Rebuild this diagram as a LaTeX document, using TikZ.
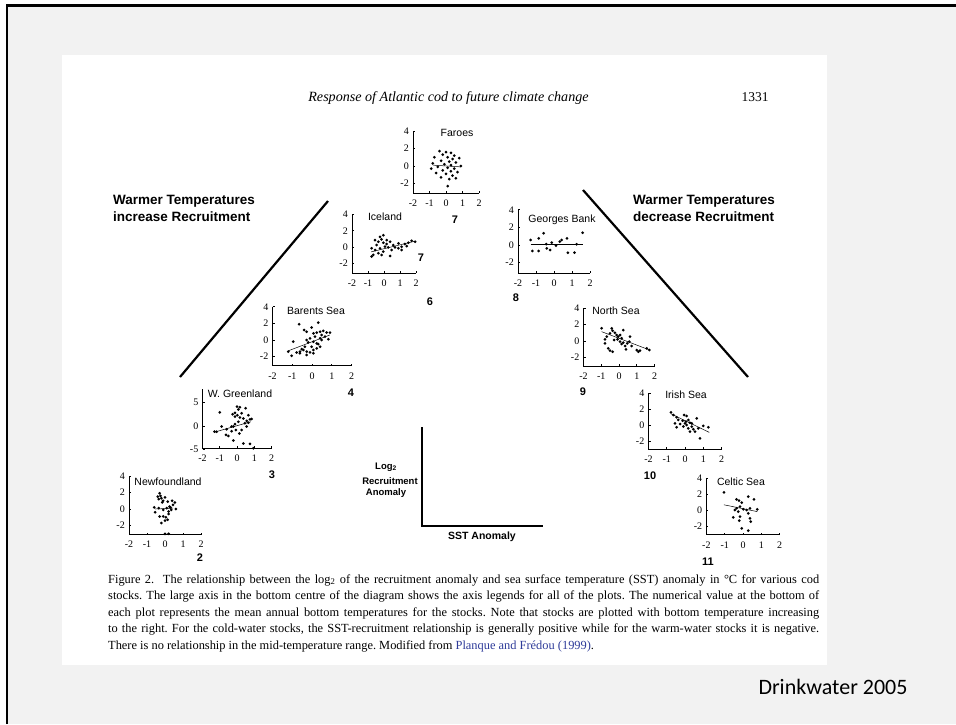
\documentclass[tikz,border=0pt]{standalone}
\usepackage{fontspec}
\setmainfont{Liberation Serif}
\newfontfamily\arialf{Liberation Sans}
\newfontfamily\calib{Carlito}
\definecolor{slidebg}{HTML}{F2F2F2}
\definecolor{citeblue}{HTML}{2F3C9A}
\tikzset{
 pl/.style n args={4}{shift={(#1,#2)}, x={(#3pt,0pt)}, y={(0pt,#4pt)}},
 ax/.style={line width=0.7pt, black},
 ytl/.style={anchor=east, inner sep=0pt, xshift=-4pt, font=\fontsize{10}{10}\selectfont},
 xtl/.style={anchor=north, inner sep=0pt, yshift=-6.5pt, font=\fontsize{10}{10}\selectfont},
 reg/.style={line width=0.5pt},
 plab/.style={font=\arialf\fontsize{10.5}{12}\selectfont, inner sep=0pt},
 num/.style={font=\arialf\bfseries\fontsize{11}{12}\selectfont, inner sep=0pt},
 head/.style={font=\arialf\bfseries\fontsize{13.5}{16.5}\selectfont, anchor=base west, inner sep=0pt},
 leg/.style={font=\arialf\bfseries\fontsize{9.5}{11}\selectfont, inner sep=0pt},
 capl/.style={font=\frenchspacing\fontsize{12.4}{14}\selectfont, anchor=base west, inner sep=0pt},
 bigline/.style={line width=2.2pt},
}
\newcommand\plaxes[3]{%
 \draw[ax] (-2,#2) -- (-2,#1) -- (2,#1);
 \foreach \t in {#3} {\draw[ax] (-2,\t) -- ++(2pt,0pt); \node[ytl] at (-2,\t) {\t};}
 \foreach \t in {-2,-1,0,1,2} {\draw[ax] (\t,#1) -- ++(0pt,2pt); \node[xtl] at (\t,#1) {\t};}
}
\newcommand\pldots[1]{\foreach \a/\b in {#1} {\fill (\a,\b) circle[radius=1.5pt];}}
\begin{document}
\begin{tikzpicture}[x=1pt, y=-1pt]
\useasboundingbox (0,0) rectangle (956,724);
\fill[white] (0,0) rectangle (956,724);
\fill[slidebg] (7,5.5) rectangle (956,724);
\draw[line width=2.2pt] (7,724) -- (7,5.5) -- (956,5.5);
\fill[white] (62,55) rectangle (827,665);

% title
\node[anchor=base, inner sep=0pt, font=\itshape\fontsize{14.1}{16}\selectfont] (title) at (448.5,101) {Response of Atlantic cod to future climate change};
\node[anchor=base, inner sep=0pt, font=\fontsize{13.5}{15}\selectfont] (page) at (755,101) {1331};

% headings
\node[head] (hl1) at (113,204) {Warmer Temperatures};
\node[head] (hl2) at (113,221) {increase Recruitment};
\node[head] (hr1) at (633,204) {Warmer Temperatures};
\node[head] (hr2) at (633,221) {decrease Recruitment};
\coordinate (la) at (328,201); \coordinate (lb) at (180,377);
\coordinate (ra) at (583,190); \coordinate (rb) at (748,377);
\draw[bigline] (la) -- (lb);
\draw[bigline] (ra) -- (rb);

% Faroes
\begin{scope}[pl={446}{166}{16.5}{8.75}]
\plaxes{-3.1}{4}{4,2,0,-2}
\pldots{-0.4/1.7,0/1.6,0.3/1.5,-0.2/1.3,0.5/1.2,-0.7/1.0,0.1/1.0,0.4/0.8,0.8/0.9,-0.3/0.6,0.2/0.5,0.6/0.4,-0.8/0.3,-0.1/0.2,0.3/0.1,0.9/0.0,-0.5/-0.1,0.1/-0.2,0.5/-0.3,-0.2/-0.5,0.3/-0.6,0.7/-0.7,-0.6/-0.8,0/-0.9,0.4/-1.1,-0.3/-1.3,0.2/-1.5,0.1/-2.3,-0.9/-0.3,0.6/-1.4}
\draw[reg] (-0.8,0.1) -- (0.9,-0.1);
\end{scope}
\node[plab] (faroes) at (457,133) {Faroes};
\node[num] (n7a) at (455,220) {7};

% Iceland
\begin{scope}[pl={384}{247}{16}{8.1}]
\plaxes{-3.2}{4}{4,2,0,-2}
\pldots{-0.25/1.26,-0.56/0.85,-0.35/0.65,-0.15/0.94,-0.04/0.53,-0.46/0.24,-0.77/-0.16,-0.56/-0.37,-0.25/-0.16,0.06/0.04,0.17/0.37,0.38/0.65,0.58/0.24,0.69/-0.04,0.9/0.45,1.1/0.04,1.31/0.37,1.52/0.53,1.73/0.77,1.94/0.65,0.9/-0.16,0.48/-0.37,0.27/-0.04,-0.04/-0.57,-0.35/-0.77,-0.67/-0.98,-0.77/-1.18,-0.15/-0.98,0.38/-1.1,1.1/-0.37,1.42/0.12,0.17/0.85,-0.04/1.46}
\draw[reg] (-0.8,-0.6) -- (1.9,0.7);
\end{scope}
\node[plab] (iceland) at (385,217) {Iceland};
\node[num] (n7b) at (421,258) {7};
\node[num] (n6) at (430,302) {6};

% Georges Bank
\begin{scope}[pl={554}{245}{18}{8.8}]
\plaxes{-3.2}{4}{4,2,0,-2}
\pldots{-1.3/0.57,-0.85/0.76,-0.58/1.33,-1.2/-0.68,-0.85/-0.68,-0.43/0.11,-0.4/-0.38,-0.22/-0.57,-0.13/0.27,0.11/-0.08,0.32/0.38,0.42/0.57,0.72/0.76,0.77/-0.87,1.14/-0.87,1.26/0.08,1.59/1.4}
\draw[reg] (-1.3,0.12) -- (1.6,0.12);
\end{scope}
\node[plab] (georges) at (562,220) {Georges Bank};
\node[num] (n8) at (516,298) {8};

% Barents Sea
\begin{scope}[pl={312}{340}{19.75}{8.3}]
\plaxes{-3.1}{4}{4,2,0,-2}
\pldots{-0.65/1.9,-0.4/1.2,-0.27/1.0,-0.02/1.5,0.32/2.1,0.07/0.8,0.24/0.9,0.41/1.0,0.57/1.1,0.74/0.9,0.91/0.9,0.49/0.6,0.66/0.4,0.41/0.2,0.15/0.4,-0.1/0.2,-0.27/0,-0.19/-0.3,0.07/-0.2,0.24/-0.4,0.49/0,0.83/0.1,-0.95/-0.2,-1.2/-1.4,-1.03/-1.9,-0.78/-1.5,-0.61/-1.4,-0.44/-1.2,-0.27/-1.4,-0.1/-1.5,0.07/-1.2,0.24/-1.0,0.41/-0.8,-0.02/-0.8,-0.36/-0.8,-0.52/-1.1,0.32/-0.5,-0.27/-1.8,-0.61/-1.6,0.07/-1.6}
\draw[reg] (-1.2,-1.3) -- (0.9,0.6);
\end{scope}
\node[plab] (barents) at (316,311) {Barents Sea};
\node[num] (n4) at (351,393) {4};

% W. Greenland
\begin{scope}[pl={237}{426}{17.25}{4.7}]
\plaxes{-4.7}{7.8}{5,0,-5}
\pldots{-1.0/2.9,0/4.1,0.08/3.5,0.17/4.0,-0.12/2.8,0.02/2.3,0.27/2.7,0.5/3.8,0.66/2.3,0.56/1.1,0.75/1.4,0.46/0.6,0.17/1.8,-0.12/2.0,-0.25/2.5,0.37/1.6,0.08/0.9,-0.12/0.4,-0.31/-0.1,-0.6/-0.7,-0.89/-0.1,-1.18/-1.2,-1.31/-1.2,-0.5/-2.1,-0.64/-1.9,-0.21/-3.1,0.14/-1.6,-0.06/-0.85,0.27/-0.85,0.66/0.7,0.85/1.5,0.37/-3.7,0.75/-3.8,0.95/-4.75,0.56/-0.1,-0.31/-1.1,-0.21/-0.1}
\draw[reg] (-1.3,-1.3) -- (0.8,0.9);
\end{scope}
\node[plab] (greenland) at (240,394) {W. Greenland};
\node[num] (n3) at (272,475) {3};

% Newfoundland
\begin{scope}[pl={165}{509}{18}{8.25}]
\plaxes{-3.1}{4}{4,2,0,-2}
\pldots{-0.3/1.9,-0.25/1.6,-0.4/1.5,-0.2/1.3,-0.35/1.2,0.0/1.4,-0.1/1.0,0.15/0.9,0.4/1.0,0.55/0.8,-0.15/0.8,-0.6/0.2,-0.35/0.1,0.1/0.1,0.25/0.3,0.45/0.5,0.35/-0.1,0.6/0.0,0.2/-0.3,-0.55/-0.4,-0.3/-0.9,-0.1/-0.9,0.05/-1.0,0.15/-1.3,0.0/-1.4,-0.2/-1.7,0.2/-0.6,0.3/0.2,-0.1/-0.1,0.0/-3.0,0.2/-3.0}
\draw[reg] (-0.55,0.0) -- (0.45,0.1);
\end{scope}
\node[plab] (newf) at (168,482) {Newfoundland};
\node[num] (n2) at (200,558) {2};

% North Sea
\begin{scope}[pl={619}{341}{17.75}{8.2}]
\plaxes{-3.05}{4}{4,2,0,-2}
\pldots{-0.98/1.55,-0.41/1.55,-0.36/1.26,-0.51/0.93,-0.23/1.0,-0.13/0.73,0.06/0.73,0.24/1.34,-0.04/0.53,-0.69/0.53,-0.79/0.2,-0.79/-0.29,-0.6/-0.9,-0.51/-1.18,-0.36/-1.3,0.06/-0.08,0.15/-0.37,0.24/-0.2,0.34/-0.61,0.47/-0.29,0.58/-0.08,0.62/0.53,0.39/-1.02,0.71/-0.61,1.0/-1.1,1.09/-1.3,1.18/-1.18,1.56/-0.9,1.71/-1.1,-0.09/0.2,0.15/0.33,-0.28/0.12}
\draw[reg] (-0.98,1.14) -- (1.73,-1.1);
\end{scope}
\node[plab] (north) at (616,311) {North Sea};
\node[num] (n9) at (583,392) {9};

% Irish Sea
\begin{scope}[pl={685}{425}{18.25}{8}]
\plaxes{-3}{4}{4,2,0,-2}
\pldots{-0.77/1.58,-0.64/1.25,-0.46/0.96,-0.37/0.63,-0.55/0.21,-0.46/-0.29,-0.13/0.54,-0.05/1.25,0.09/1.13,0.05/0.42,0.18/0.63,0.27/0.29,0.09/0,-0.09/-0.2,0.18/-0.42,0.37/-0.2,0.46/-0.54,0.27/-0.83,0.55/-0.83,0.64/0.83,0.73/-0.42,1.0/-0.12,1.28/-0.29,0.82/-1.67,-0.27/0.12,0/0.21,0.37/0.21}
\draw[reg] (-0.77,1.4) -- (1.33,-0.92);
\end{scope}
\node[plab] (irish) at (686,395) {Irish Sea};
\node[num] (n10) at (650,476) {10};

% Celtic Sea
\begin{scope}[pl={743}{510}{18.3}{8}]
\plaxes{-3.1}{4}{4,2,0,-2}
\pldots{-1.04/2.2,-0.35/1.33,-0.22/1.17,0.29/1.67,0.6/1.33,-0.07/0.92,-0.35/0.21,-0.16/0.42,0.02/0.08,-0.44/0,-0.26/-0.21,0.2/0,0.38/0.21,0.78/0.08,0.29/-0.42,-0.16/-0.83,-0.2/-1.33,-0.53/-0.92,0.38/-1.04,0.42/-1.46,-0.07/-2.29,0.29/-2.58}
\draw[reg] (-1.04,0.65) -- (0.78,-0.2);
\end{scope}
\node[plab] (celtic) at (741,482) {Celtic Sea};
\node[num] (n11) at (708,562) {11};

% legend axes
\coordinate (lgt) at (422,427); \coordinate (lgo) at (422,526); \coordinate (lgr) at (543,526);
\draw[line width=1.8pt] (lgt) -- (lgo) -- (lgr);
\node[leg] (log) at (386,467) {Log\textsubscript{2}};
\node[leg] (rec) at (390,481) {Recruitment};
\node[leg] (anom) at (386,493) {Anomaly};
\node[leg, font=\arialf\bfseries\fontsize{10.5}{12}\selectfont] (sst) at (482,537) {SST Anomaly};

% caption
\node[capl] (c1) at (108,583) {\makebox[711pt][s]{Figure 2.\ \ The relationship between the log\textsubscript{2} of the recruitment anomaly and sea surface temperature (SST) anomaly in °C for various cod}};
\node[capl] (c2) at (108,599.5) {\makebox[711pt][s]{stocks. The large axis in the bottom centre of the diagram shows the axis legends for all of the plots. The numerical value at the bottom of}};
\node[capl] (c3) at (108,616) {\makebox[711pt][s]{each plot represents the mean annual bottom temperatures for the stocks. Note that stocks are plotted with bottom temperature increasing}};
\node[capl] (c4) at (108,632.5) {\makebox[711pt][s]{to the right. For the cold-water stocks, the SST-recruitment relationship is generally positive while for the warm-water stocks it is negative.}};
\node[capl] (c5) at (108,649) {There is no relationship in the mid-temperature range. Modified from \textcolor{citeblue}{Planque and Frédou (1999)}.};

% credit
\node[inner sep=0pt, font=\calib\fontsize{22}{26}\selectfont] (credit) at (833,687) {Drinkwater 2005};
\end{tikzpicture}
\end{document}
